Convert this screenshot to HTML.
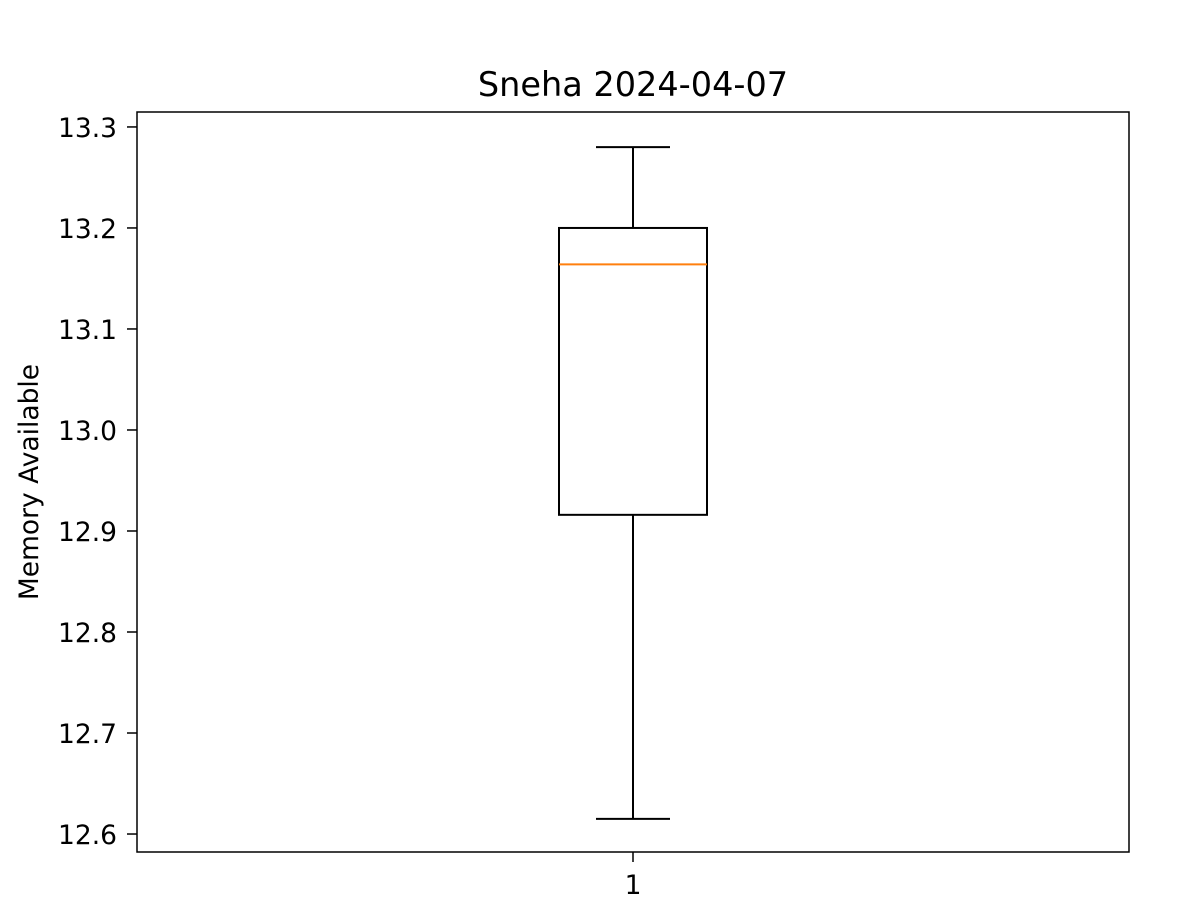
<!DOCTYPE html>
<html><head><meta charset="utf-8"><style>
body{margin:0;background:#fff;}
svg{display:block;font-family:"DejaVu Sans","Liberation Sans",sans-serif;}
</style></head><body>
<svg id="chart" width="1182" height="922">
<text x="633" y="96" font-size="33.5" text-anchor="middle">Sneha 2024-04-07</text>
<text transform="translate(38,482) rotate(-90)" font-size="26.5" text-anchor="middle">Memory Available</text>
<g id="marks"></g>
<rect x="137" y="112" width="992" height="740" fill="none" stroke="#000" stroke-width="1.5"/>
</svg>
<script>
const categories=["1"];
const whiskerHigh=[13.28];
const whiskerLow=[12.615];
const q3=[13.2];
const q1=[12.916];
const median=[13.164];
const yTicks=[12.6,12.7,12.8,12.9,13.0,13.1,13.2,13.3];
const yMin=12.5822,yMax=13.3148;
const plotTop=112,plotBottom=852,plotLeft=137,plotRight=1129;
function yScale(v){return plotBottom-(v-yMin)/(yMax-yMin)*(plotBottom-plotTop);}
function xScale(i){return plotLeft+(i+0.5)*(plotRight-plotLeft)/categories.length;}
const ns="http://www.w3.org/2000/svg";
const g=document.getElementById('marks');
function mk(t,a){const e=document.createElementNS(ns,t);for(const k in a)e.setAttribute(k,a[k]);g.appendChild(e);return e;}
yTicks.forEach(t=>{
  const l=mk('line',{x1:plotLeft-10,x2:plotLeft,y1:yScale(t),y2:yScale(t),stroke:'#000','stroke-width':1.5});
  
  
  const tx=mk('text',{x:plotLeft-20,y:yScale(t)+10,'font-size':26.5,'text-anchor':'end'});
  tx.textContent=t.toFixed(1);
  
  
});
categories.forEach((c,i)=>{
  const cx=xScale(i),bw=148,cw=74;
  const t=mk('line',{x1:cx,x2:cx,y1:plotBottom,y2:plotBottom+10,stroke:'#000','stroke-width':1.5});
  
  
  const tl=mk('text',{x:cx,y:plotBottom+42,'font-size':26.5,'text-anchor':'middle'});
  tl.textContent=c;
  
  
  const w1=mk('line',{x1:cx,x2:cx,y1:yScale(whiskerHigh[i]),y2:yScale(q3[i]),stroke:'#000','stroke-width':2});
  
  
  const w2=mk('line',{x1:cx,x2:cx,y1:yScale(q1[i]),y2:yScale(whiskerLow[i]),stroke:'#000','stroke-width':2});
  
  
  const c1=mk('line',{x1:cx-cw/2,x2:cx+cw/2,y1:yScale(whiskerHigh[i]),y2:yScale(whiskerHigh[i]),stroke:'#000','stroke-width':2});
  
  
  const c2=mk('line',{x1:cx-cw/2,x2:cx+cw/2,y1:yScale(whiskerLow[i]),y2:yScale(whiskerLow[i]),stroke:'#000','stroke-width':2});
  
  
  const b=mk('rect',{x:cx-bw/2,y:yScale(q3[i]),width:bw,height:yScale(q1[i])-yScale(q3[i]),fill:'none',stroke:'#000','stroke-width':2});
  
  
  const m=mk('line',{x1:cx-bw/2,x2:cx+bw/2,y1:yScale(median[i]),y2:yScale(median[i]),stroke:'#ff7f0e','stroke-width':2});
  
  
});
</script>
</body></html>
